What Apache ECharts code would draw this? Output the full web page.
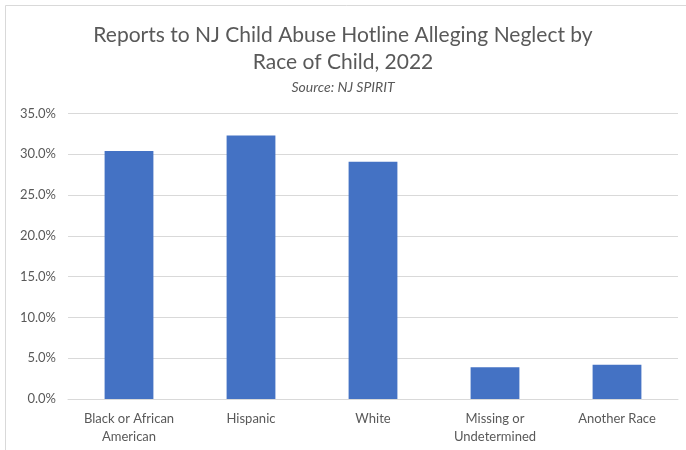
<!DOCTYPE html>
<html><head><meta charset="utf-8">
<script src="https://cdn.jsdelivr.net/npm/echarts@6/dist/echarts.min.js"></script>
<style>html,body{margin:0;padding:0;background:#fff}#c{width:686px;height:450px}</style>
</head><body><div id="c"></div>
<script>
const categories = ['Black or African\nAmerican', 'Hispanic', 'White', 'Missing or\nUndetermined', 'Another Race'];
const values = [30.4, 32.3, 29.1, 3.9, 4.2];
const yTicks = [0, 5, 10, 15, 20, 25, 30, 35];

const chart = echarts.init(document.getElementById('c'), null, {renderer: 'canvas'});
chart.setOption({
  backgroundColor: '#fff',
  animation: false,
  title: [
    {text: 'Reports to NJ Child Abuse Hotline Alleging Neglect by\nRace of Child, 2022', left: 'center', top: 17,
     textStyle: {fontFamily: 'Lato', fontSize: 21, fontWeight: 'normal', color: '#595959', lineHeight: 27}},
    {text: 'Source: NJ SPIRIT', left: 'center', top: 75,
     textStyle: {fontFamily: 'Lato', fontSize: 14, fontStyle: 'italic', fontWeight: 'normal', color: '#595959'}}
  ],
  graphic: [{type: 'rect', shape: {x: 5.5, y: 5.5, width: 700, height: 500}, style: {fill: 'none', stroke: '#d9d9d9', lineWidth: 1}}],
  grid: {left: 68, right: 8, top: 113.5, bottom: 51},
  xAxis: {
    type: 'category', data: categories,
    axisLine: {lineStyle: {color: '#d9d9d9'}}, axisTick: {show: false},
    axisLabel: {fontFamily: 'Lato', fontSize: 13, color: '#595959', lineHeight: 18, margin: 11}
  },
  yAxis: {
    type: 'value', min: yTicks[0], max: yTicks[yTicks.length - 1], interval: 5,
    axisLine: {show: false}, axisTick: {show: false},
    splitLine: {lineStyle: {color: '#d9d9d9'}},
    axisLabel: {fontFamily: 'Lato', fontSize: 13, color: '#595959', margin: 12, formatter: v => v.toFixed(1) + '%'}
  },
  series: [{type: 'bar', data: values, barWidth: '40%', itemStyle: {color: '#4472C4'}}]
});
</script></body></html>
